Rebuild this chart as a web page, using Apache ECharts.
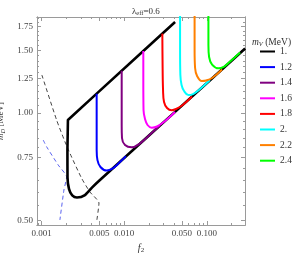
<!DOCTYPE html>
<html><head><meta charset="utf-8">
<script src="https://cdn.jsdelivr.net/npm/echarts@6/dist/echarts.min.js"></script>
<style>html,body{margin:0;padding:0;background:#fff}#c{width:300px;height:253px}</style>
</head><body><div id="c"></div>
<script>
// ---- data (f2, m_D) ----
const mvLabels = ['1.', '1.2', '1.4', '1.6', '1.8', '2.', '2.2', '2.4'];
// m_V = 1: upper straight edge down the corner, then the rounded lower branch
const curveMv10Upper = [[0.0413,1.799],[0.01704,1.492],[0.004642,1.133],[0.002084,0.956],[0.002055,0.788]];
const curveMv10Lower = [[0.002055,0.788],[0.00206,0.660],[0.00215,0.612],[0.00235,0.588],[0.002679,0.580],[0.003349,0.589],[0.004071,0.618],[0.005088,0.649],[0.02362,0.896],[0.08295,1.166],[0.2911,1.516]];
const curveMv12 = [[0.004642,1.133],[0.004642,0.956],[0.004642,0.788],[0.004746,0.738],[0.00516,0.706],[0.006136,0.690],[0.007113,0.697],[0.00841,0.720],[0.0105,0.757]];
const curveMv14 = [[0.009326,1.313],[0.009326,1.0875],[0.009326,0.9255],[0.009404,0.851],[0.01023,0.8135],[0.01233,0.8015],[0.01554,0.8224],[0.02054,0.8705],[0.02715,0.9225]];
const curveMv16 = [[0.01704,1.492],[0.01704,1.237],[0.01714,1.0196],[0.01787,0.962],[0.01916,0.9255],[0.02154,0.9095],[0.02498,0.9166],[0.03123,0.9497],[0.04128,1.0065]];
const curveMv18 = [[0.02896,1.669],[0.02912,1.408],[0.02953,1.160],[0.03036,1.0735],[0.03302,1.0328],[0.03765,1.0182],[0.04245,1.026],[0.05026,1.0496],[0.06636,1.1123]];
const curveMv20 = [[0.04746,1.882],[0.04746,1.5015],[0.04786,1.278],[0.04948,1.198],[0.05305,1.1525],[0.05984,1.1231],[0.06823,1.1304],[0.08295,1.1675],[0.109,1.2373]];
const curveMv22 = [[0.07115,1.882],[0.07115,1.5015],[0.07215,1.3369],[0.07628,1.2696],[0.08699,1.2293],[0.09806,1.2333],[0.1159,1.2533],[0.1532,1.324]];
const curveMv24 = [[0.1046,1.882],[0.1046,1.5507],[0.1066,1.4352],[0.1159,1.3674],[0.1382,1.3343],[0.162,1.3499],[0.1915,1.394],[0.2533,1.4775]];
const dashedBlack = [[0.001008,1.278],[0.00152,0.9558],[0.001917,0.831],[0.002203,0.771],[0.003054,0.6562],[0.00385,0.6007],[0.004949,0.5596],[0.004642,0.497]];
const dashedBlue = [[0.001046,0.840],[0.00115,0.8046],[0.001589,0.715],[0.002009,0.6618],[0.001864,0.6085],[0.001666,0.5014]];
const xMajorTicks = [0.001, 0.005, 0.01, 0.05, 0.1];
const xMinorTicks = [0.0009, 0.002, 0.003, 0.004, 0.006, 0.007, 0.008, 0.009, 0.02, 0.03, 0.04, 0.06, 0.07, 0.08, 0.09, 0.2];
const yMajorTicks = [0.5, 0.75, 1.0, 1.25, 1.5, 1.75];
const yMinorTicks = [0.55, 0.6, 0.65, 0.7, 0.8, 0.85, 0.9, 0.95, 1.05, 1.1, 1.15, 1.2, 1.3, 1.35, 1.4, 1.45, 1.55, 1.6, 1.65, 1.7, 1.8, 1.85];

// ---- styling ----
const X_MIN = 0.00088, X_MAX = 0.29, Y_MIN = 0.4855, Y_MAX = 1.858;
const SERIF = 'Liberation Serif';
const FRAME = '#9a9a9a';
const colors = ['#0000ff', '#800080', '#ff00ff', '#ff0000', '#00ffff', '#ff8000', '#00ff00'];
const coloredCurves = [curveMv12, curveMv14, curveMv16, curveMv18, curveMv20, curveMv22, curveMv24];

function xAx(pos, ticks, len, labels) {
  return {
    type: 'log', logBase: 10, min: X_MIN, max: X_MAX, position: pos,
    axisLine: { show: true, onZero: false, lineStyle: { color: FRAME, width: 1 } },
    axisTick: { show: true, inside: true, length: len, customValues: ticks, lineStyle: { color: FRAME, width: 1 } },
    axisLabel: { show: labels, customValues: xMajorTicks, margin: 4, formatter: v => (+v).toFixed(3),
      fontFamily: SERIF, fontSize: 9, color: '#444' },
    splitLine: { show: false }, minorTick: { show: false }, minorSplitLine: { show: false }
  };
}
function yAx(pos, ticks, len, labels) {
  return {
    type: 'log', logBase: 10, min: Y_MIN, max: Y_MAX, position: pos,
    axisLine: { show: true, onZero: false, lineStyle: { color: FRAME, width: 1 } },
    axisTick: { show: true, inside: true, length: len, customValues: ticks, lineStyle: { color: FRAME, width: 1 } },
    axisLabel: { show: labels, customValues: yMajorTicks, margin: 4, formatter: v => (+v).toFixed(2),
      fontFamily: SERIF, fontSize: 9, color: '#444' },
    splitLine: { show: false }, minorTick: { show: false }, minorSplitLine: { show: false }
  };
}
const xAxes = [xAx('bottom', xMajorTicks, 4, true), xAx('bottom', xMinorTicks, 2, false), xAx('top', xMajorTicks, 4, false), xAx('top', xMinorTicks, 2, false)];
xAxes[0].name = '{i|f}{s|2}';
xAxes[0].nameLocation = 'middle';
xAxes[0].nameGap = 17;
xAxes[0].nameTextStyle = { fontFamily: SERIF, fontSize: 10, color: '#333',
  rich: { i: { fontFamily: SERIF, fontStyle: 'italic', fontSize: 10, color: '#333' },
          s: { fontFamily: SERIF, fontSize: 7, color: '#333', padding: [5, 0, 0, 0] } } };
const yAxes = [yAx('left', yMajorTicks, 4, true), yAx('left', yMinorTicks, 2, false), yAx('right', yMajorTicks, 4, false), yAx('right', yMinorTicks, 2, false)];
yAxes[0].name = '{i|m}{s|D}{n| [MeV]}';
yAxes[0].nameLocation = 'middle';
yAxes[0].nameRotate = 90;
yAxes[0].nameGap = 23;
yAxes[0].nameTextStyle = { fontFamily: SERIF, fontSize: 9, color: '#333',
  rich: { i: { fontFamily: SERIF, fontStyle: 'italic', fontSize: 9, color: '#333' },
          s: { fontFamily: SERIF, fontStyle: 'italic', fontSize: 6.5, color: '#333', padding: [4, 0, 0, 0] },
          n: { fontFamily: SERIF, fontSize: 9, color: '#333' } } };

const series = [];
series.push({ name: mvLabels[0], type: 'line', data: curveMv10Upper, showSymbol: false, symbol: 'none', smooth: false,
  lineStyle: { color: '#000', width: 2.6, join: 'round' }, itemStyle: { color: '#000' }, z: 3, silent: true });
series.push({ name: mvLabels[0], type: 'line', data: curveMv10Lower, showSymbol: false, symbol: 'none', smooth: 0.25,
  lineStyle: { color: '#000', width: 2.6 }, itemStyle: { color: '#000' }, z: 3, silent: true });
coloredCurves.forEach((d, i) => series.push({
  name: mvLabels[i + 1], type: 'line', data: d, showSymbol: false, symbol: 'none', smooth: 0.4, clip: true,
  lineStyle: { color: colors[i], width: 2 }, itemStyle: { color: colors[i] }, z: 4, silent: true
}));
series.push({ name: 'dashBlack', type: 'line', data: dashedBlack, showSymbol: false, symbol: 'none', smooth: 0.2,
  lineStyle: { color: '#444', width: 1, type: [4, 3] }, z: 2, silent: true });
series.push({ name: 'dashBlue', type: 'line', data: dashedBlue, showSymbol: false, symbol: 'none', smooth: 0.2,
  lineStyle: { color: '#5a63f0', width: 1, type: [4, 3] }, z: 2, silent: true });

const chart = echarts.init(document.getElementById('c'), null, { renderer: 'canvas' });
chart.setOption({
  animation: false,
  backgroundColor: '#fff',
  grid: { left: 37, right: 55, top: 17, bottom: 28, containLabel: false, outerBoundsMode: 'none' },
  title: [
    { text: '{i|λ}{s|eff}{n|=0.6}', left: 127, top: 1,
      textStyle: { fontFamily: SERIF, fontSize: 9, fontWeight: 'normal', color: '#333',
        rich: { i: { fontFamily: SERIF, fontSize: 9, color: '#333' },
                s: { fontFamily: SERIF, fontSize: 6.5, color: '#333', padding: [4, 0, 0, 0] },
                n: { fontFamily: SERIF, fontSize: 9, color: '#333' } } } },
    { text: '{i|m}{s|V}{n| (MeV)}', left: 247, top: 32,
      textStyle: { fontFamily: SERIF, fontSize: 9.5, fontWeight: 'normal', color: '#333',
        rich: { i: { fontFamily: SERIF, fontStyle: 'italic', fontSize: 9.5, color: '#333' },
                s: { fontFamily: SERIF, fontStyle: 'italic', fontSize: 6.5, color: '#333', padding: [4, 0, 0, 0] },
                n: { fontFamily: SERIF, fontSize: 9.5, color: '#333' } } } }
  ],
  legend: {
    data: mvLabels, orient: 'vertical', left: 260, top: 45.5, padding: 0,
    icon: 'rect', itemWidth: 15, itemHeight: 2, itemGap: 3.6, selectedMode: false,
    textStyle: { fontFamily: SERIF, fontSize: 9.5, color: '#333', lineHeight: 12 }
  },
  xAxis: xAxes,
  yAxis: yAxes,
  series: series
});
</script></body></html>
